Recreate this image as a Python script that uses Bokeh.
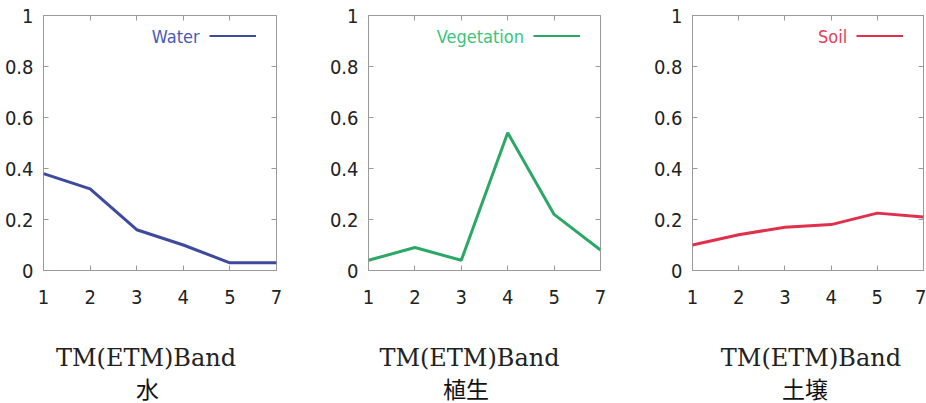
from bokeh.plotting import figure
from bokeh.layouts import row, column
from bokeh.models import (Range1d, FixedTicker, NumeralTickFormatter, LinearAxis,
                          Label, Legend, LegendItem)
from bokeh.core.properties import value
from bokeh.embed import file_html
from bokeh.resources import INLINE

# TM (ETM) band numbers on the x axis
bands = ["1", "2", "3", "4", "5", "7"]
y_ticks = [0, 0.2, 0.4, 0.6, 0.8, 1.0]

# reflectance per band
water = [0.38, 0.32, 0.16, 0.10, 0.03, 0.03]
vegetation = [0.04, 0.09, 0.04, 0.54, 0.22, 0.08]
soil = [0.10, 0.14, 0.17, 0.18, 0.225, 0.21]

series_names = ["Water", "Vegetation", "Soil"]
panel_titles = ["水", "植生", "土壌"]
axis_caption = "TM(ETM)Band"
line_colors = ["#3d4a9e", "#2ca866", "#e0304c"]
text_colors = ["#4a5ab4", "#3cc47a", "#e6405a"]

NARROW = "'Liberation Sans Narrow', 'DejaVu Sans Condensed', 'Roboto', sans-serif"
CJK = "'Noto Sans CJK JP', sans-serif"
FRAME_GREY = "#9a9a9a"

PLOT_H = 318      # chart part of each panel
CAPTION_H = 85    # caption strip under each chart


def style_ticks(ax):
    ax.axis_line_color = None
    ax.major_tick_in = 5
    ax.major_tick_out = 0
    ax.minor_tick_line_color = None
    ax.major_tick_line_color = FRAME_GREY


def make_chart(values, name, line_color, text_color, frame_w, border_r):
    xs = list(range(len(bands)))
    p = figure(frame_width=frame_w, frame_height=255,
               min_border_left=43, min_border_right=border_r,
               min_border_top=15, min_border_bottom=PLOT_H - 255 - 15,
               x_range=Range1d(0, len(bands) - 1), y_range=Range1d(0, 1),
               output_backend="svg", toolbar_location=None)
    p.background_fill_color = "white"
    p.border_fill_color = "white"
    p.outline_line_color = FRAME_GREY
    p.outline_line_width = 1
    p.grid.visible = False

    # bottom / left axes with inward ticks
    p.xaxis.ticker = FixedTicker(ticks=xs)
    p.xaxis.major_label_overrides = {i: b for i, b in enumerate(bands)}
    p.yaxis.ticker = FixedTicker(ticks=y_ticks)
    p.yaxis.formatter = NumeralTickFormatter(format="0.[0]")
    for ax in (p.xaxis[0], p.yaxis[0]):
        style_ticks(ax)
        ax.major_label_text_font = NARROW
        ax.major_label_text_font_size = "20px"
        ax.major_label_text_color = "#222222"
    p.xaxis.major_label_standoff = 19
    p.yaxis.major_label_standoff = 10

    # mirrored ticks on the top and right borders (no labels)
    top = LinearAxis(ticker=FixedTicker(ticks=xs))
    right = LinearAxis(ticker=FixedTicker(ticks=y_ticks))
    for ax in (top, right):
        style_ticks(ax)
        ax.major_label_text_font_size = "1px"
        ax.major_label_text_alpha = 0
        ax.major_label_standoff = 0
    p.add_layout(top, "above")
    p.add_layout(right, "right")

    r = p.line(xs, values, line_color=line_color, line_width=3)

    # key: series name in colour, followed by the line sample
    legend = Legend(items=[LegendItem(label="", renderers=[r])],
                    location="top_right", margin=20, padding=0, spacing=0,
                    label_standoff=0, glyph_width=47, glyph_height=2,
                    label_height=2, label_width=0, label_text_font_size="1px",
                    label_text_alpha=0,
                    border_line_color=None, background_fill_alpha=0)
    p.add_layout(legend)
    p.add_layout(Label(x=3.35, y=0.918, text=name, text_align="right",
                       text_baseline="middle", text_color=text_color,
                       text_font=NARROW, text_font_size="18px"))
    return p


def make_caption(width, title, caption_x, title_x):
    # pixel-like coordinate space, y measured upwards from the strip bottom
    c = figure(width=width, height=CAPTION_H,
               x_range=Range1d(0, width), y_range=Range1d(0, CAPTION_H),
               x_axis_location=None, y_axis_location=None, min_border=0,
               output_backend="svg", toolbar_location=None)
    c.grid.visible = False
    c.outline_line_color = None
    c.background_fill_color = "white"
    c.border_fill_color = "white"
    c.text(x=[caption_x], y=[CAPTION_H - 39], text=[axis_caption],
           text_align="center", text_baseline="middle",
           text_font=value("DejaVu Serif"), text_font_size="24px",
           text_color="#222222")
    c.text(x=[title_x], y=[CAPTION_H - 69], text=[title],
           text_align="center", text_baseline="middle",
           text_font=value(CJK), text_font_size="23px", text_color="#111111")
    return c


data = [water, vegetation, soil]
frame_widths = [233, 232, 231]
right_borders = [49, 49, 3]
caption_xs = [143, 141, 142]
title_xs = [145, 136, 135]

columns = []
for i in range(3):
    chart = make_chart(data[i], series_names[i], line_colors[i], text_colors[i],
                       frame_widths[i], right_borders[i])
    width = 43 + frame_widths[i] + right_borders[i]
    caption = make_caption(width, panel_titles[i], caption_xs[i], title_xs[i])
    columns.append(column(chart, caption, spacing=0))

layout = row(*columns, spacing=0)
open("out.html", "w").write(file_html(layout, INLINE))
